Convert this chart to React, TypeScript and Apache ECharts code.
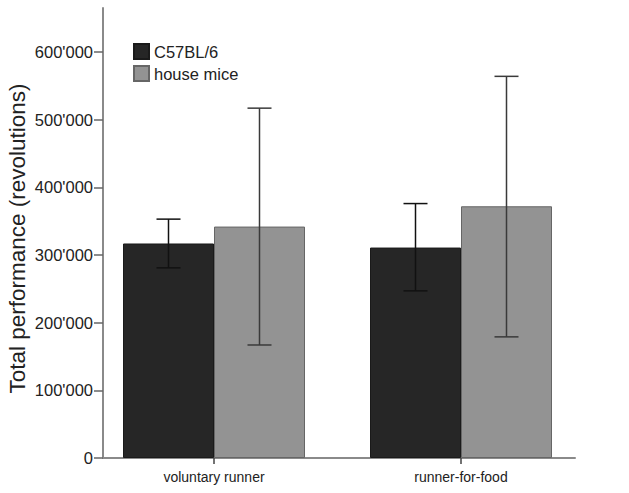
import React, { useEffect, useRef } from "react";
import * as echarts from "echarts";

const categories = ["voluntary runner", "runner-for-food"];
const seriesNames = ["C57BL/6", "house mice"];
const c57Means = [317000, 311000];
const houseMeans = [342000, 372000];
const c57Low = [281000, 247000];
const c57High = [353000, 376000];
const houseLow = [167000, 179000];
const houseHigh = [517000, 564000];
const yTicks = [0, 100000, 200000, 300000, 400000, 500000, 600000];
const yTitle = "Total performance (revolutions)";

const FONT = "'Liberation Sans', Arial, sans-serif";
const Y_MAX = 665000;
const BAR_W = 91;

function fmt(v: number) {
  if (v === 0) return "0";
  return Math.round(v / 1000) + "'000";
}

export default function App() {
  const ref = useRef<HTMLDivElement>(null);
  useEffect(() => {
    if (!ref.current) return;
    const chart = echarts.init(ref.current, null, { renderer: "svg" });

    const errorSeries = (low: number[], high: number[], offset: number, color: string) => ({
      type: "custom",
      xAxisIndex: 0,
      yAxisIndex: 0,
      clip: false,
      z: 10,
      data: categories.map((_, i) => [i, low[i], high[i]]),
      encode: { x: 0, y: [1, 2] },
      renderItem: (params: any, api: any) => {
        const i = api.value(0);
        const lo = api.coord([i, api.value(1)]);
        const hi = api.coord([i, api.value(2)]);
        const x = lo[0] + offset;
        const cap = 12;
        const style = { stroke: color, lineWidth: 1.5 };
        return {
          type: "group",
          children: [
            { type: "line", shape: { x1: x, y1: lo[1], x2: x, y2: hi[1] }, style },
            { type: "line", shape: { x1: x - cap, y1: hi[1], x2: x + cap, y2: hi[1] }, style },
            { type: "line", shape: { x1: x - cap, y1: lo[1], x2: x + cap, y2: lo[1] }, style },
          ],
        };
      },
    });

    chart.setOption({
      animation: false,
      backgroundColor: "#ffffff",
      textStyle: { fontFamily: FONT },
      graphic: [
        {
          type: "text",
          x: 17,
          y: 238.5,
          rotation: Math.PI / 2,
          style: {
            text: yTitle,
            fontSize: 22.5,
            fontFamily: FONT,
            fill: "#222",
            textAlign: "center",
            textVerticalAlign: "middle",
          },
        },
      ],
      legend: {
        data: seriesNames,
        orient: "vertical",
        left: 128,
        top: 38,
        icon: "rect",
        itemWidth: 15,
        itemHeight: 15,
        itemGap: 5,
        textStyle: { fontSize: 16.5, lineHeight: 15, color: "#222", fontFamily: FONT },
      },
      grid: [
        { left: 90.5, right: 44.5, top: 8, bottom: 35 },
        { left: 103, right: 54, top: 8, bottom: 35 },
      ],
      xAxis: [
        {
          type: "category",
          gridIndex: 0,
          data: categories,
          axisLine: { show: false },
          axisTick: { show: true, alignWithLabel: true, length: 6, lineStyle: { color: "#444", width: 1.5 } },
          axisLabel: { fontSize: 14, color: "#222", margin: 12, fontFamily: FONT },
          splitLine: { show: false },
        },
        {
          type: "value",
          gridIndex: 1,
          min: 0,
          max: 1,
          axisLine: { show: true, onZero: false, lineStyle: { color: "#8a8a8a", width: 2 } },
          axisTick: { show: false },
          axisLabel: { show: false },
          splitLine: { show: false },
        },
      ],
      yAxis: [
        {
          type: "value",
          gridIndex: 0,
          min: 0,
          max: Y_MAX,
          show: false,
          splitLine: { show: false },
        },
        {
          type: "value",
          gridIndex: 1,
          min: 0,
          max: Y_MAX,
          interval: 100000,
          axisLine: { show: true, lineStyle: { color: "#8a8a8a", width: 2 } },
          axisTick: {
            show: true,
            length: 9,
            customValues: yTicks,
            lineStyle: { color: "#666", width: 1.5 },
          },
          axisLabel: {
            fontSize: 16.5,
            color: "#222",
            margin: 10,
            fontFamily: FONT,
            customValues: yTicks,
            formatter: (v: number) => fmt(v),
          },
          splitLine: { show: false },
        },
      ],
      series: [
        {
          name: seriesNames[0],
          type: "bar",
          xAxisIndex: 0,
          yAxisIndex: 0,
          data: c57Means,
          barWidth: BAR_W,
          barGap: "0%",
          itemStyle: { color: "#262626", borderColor: "#1a1a1a", borderWidth: 1 },
        },
        {
          name: seriesNames[1],
          type: "bar",
          xAxisIndex: 0,
          yAxisIndex: 0,
          data: houseMeans,
          barWidth: BAR_W,
          barGap: "0%",
          itemStyle: { color: "#939393", borderColor: "#666666", borderWidth: 1 },
        },
        errorSeries(c57Low, c57High, -BAR_W / 2, "#111111"),
        errorSeries(houseLow, houseHigh, BAR_W / 2, "#3a3a3a"),
      ],
    });
    return () => chart.dispose();
  }, []);
  return <div ref={ref} style={{ width: 629, height: 493, position: "absolute", left: 0, top: 0 }} />;
}
